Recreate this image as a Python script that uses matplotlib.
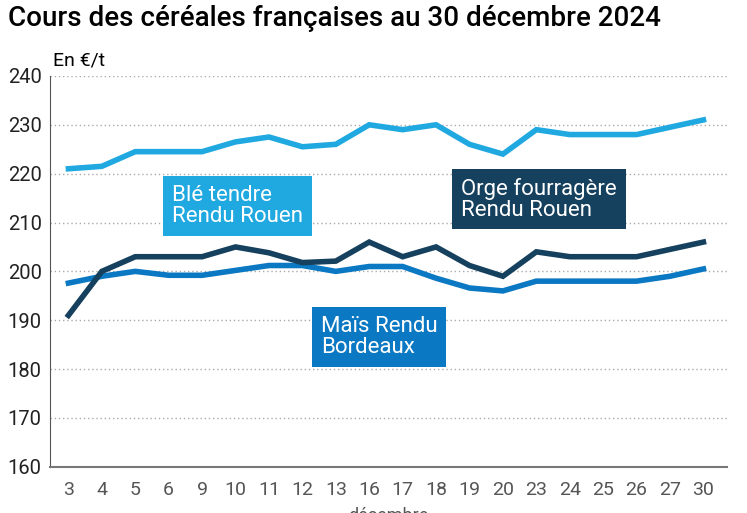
import matplotlib.pyplot as plt

plt.rcParams['font.family'] = ['Roboto', 'DejaVu Sans']

jours = ['3', '4', '5', '6', '9', '10', '11', '12', '13', '16', '17', '18',
         '19', '20', '23', '24', '25', '26', '27', '30']
ble = [221, 221.5, 224.5, 224.5, 224.5, 226.5, 227.5, 225.5, 226, 230, 229, 230,
       226, 224, 229, 228, 228, 228, 229.5, 231]
orge = [191, 200, 203, 203, 203, 205, 203.8, 201.8, 202.1, 206, 203, 205,
        201.2, 199, 204, 203, 203, 203, 204.5, 206]
mais = [197.6, 199, 200, 199.2, 199.2, 200.2, 201.2, 201.2, 200, 201, 201, 198.6,
        196.6, 196, 198, 198, 198, 198, 199, 200.5]

c_ble = '#20a8e0'
c_mais = '#0a78c2'
c_orge = '#15405e'

fig = plt.figure(figsize=(7.47, 5.13), dpi=100)
ax = fig.add_axes([0.067, 0.09, 0.906, 0.762])

x = range(len(jours))
ax.plot(x, ble, color=c_ble, lw=4, solid_joinstyle='miter', zorder=3)
ax.plot(x, mais, color=c_mais, lw=4, solid_joinstyle='miter', zorder=3)
ax.plot(x, orge, color=c_orge, lw=4, solid_joinstyle='miter', zorder=4)

ax.set_xlim(-0.55, 19.7)
ax.set_ylim(160, 240)
ax.set_yticks(range(160, 241, 10))
ax.set_xticks(list(x))
ax.set_xticklabels(jours)
ax.tick_params(axis='y', length=0, labelsize=14.5, pad=6, labelcolor='#222222')
ax.tick_params(axis='x', length=0, labelsize=14, pad=10, labelcolor='#555555')
ax.yaxis.grid(True, linestyle=(0, (1, 2)), color='#aaaaaa', lw=1)
ax.set_axisbelow(True)
for s in ['top', 'right']:
    ax.spines[s].set_visible(False)
ax.spines['left'].set_color('#555555')
ax.spines['bottom'].set_color('#777777')
ax.spines['bottom'].set_linewidth(1.5)

box = dict(boxstyle='square,pad=0.4', lw=0)
ax.text(3.1, 213.4, 'Blé tendre\nRendu Rouen', color='white', fontsize=16,
        va='center', ha='left', linespacing=1.0, zorder=5,
        bbox=dict(box, facecolor=c_ble))
ax.text(11.75, 214.8, 'Orge fourragère\nRendu Rouen', color='white', fontsize=16,
        va='center', ha='left', linespacing=1.0, zorder=5,
        bbox=dict(box, facecolor=c_orge))
ax.text(7.55, 186.6, 'Maïs Rendu\nBordeaux', color='white', fontsize=16,
        va='center', ha='left', linespacing=1.0, zorder=5,
        bbox=dict(box, facecolor=c_mais))

fig.text(0.011, 0.963, 'Cours des céréales françaises au 30 décembre 2024',
         fontsize=20, fontweight='medium', va='center', ha='left')
fig.text(0.071, 0.883, 'En €/t', fontsize=14, va='center', ha='left')
fig.text(0.52, -0.005, 'décembre', fontsize=13, va='center', ha='center',
         color='#555555')

fig.savefig('out.png', dpi=100)
